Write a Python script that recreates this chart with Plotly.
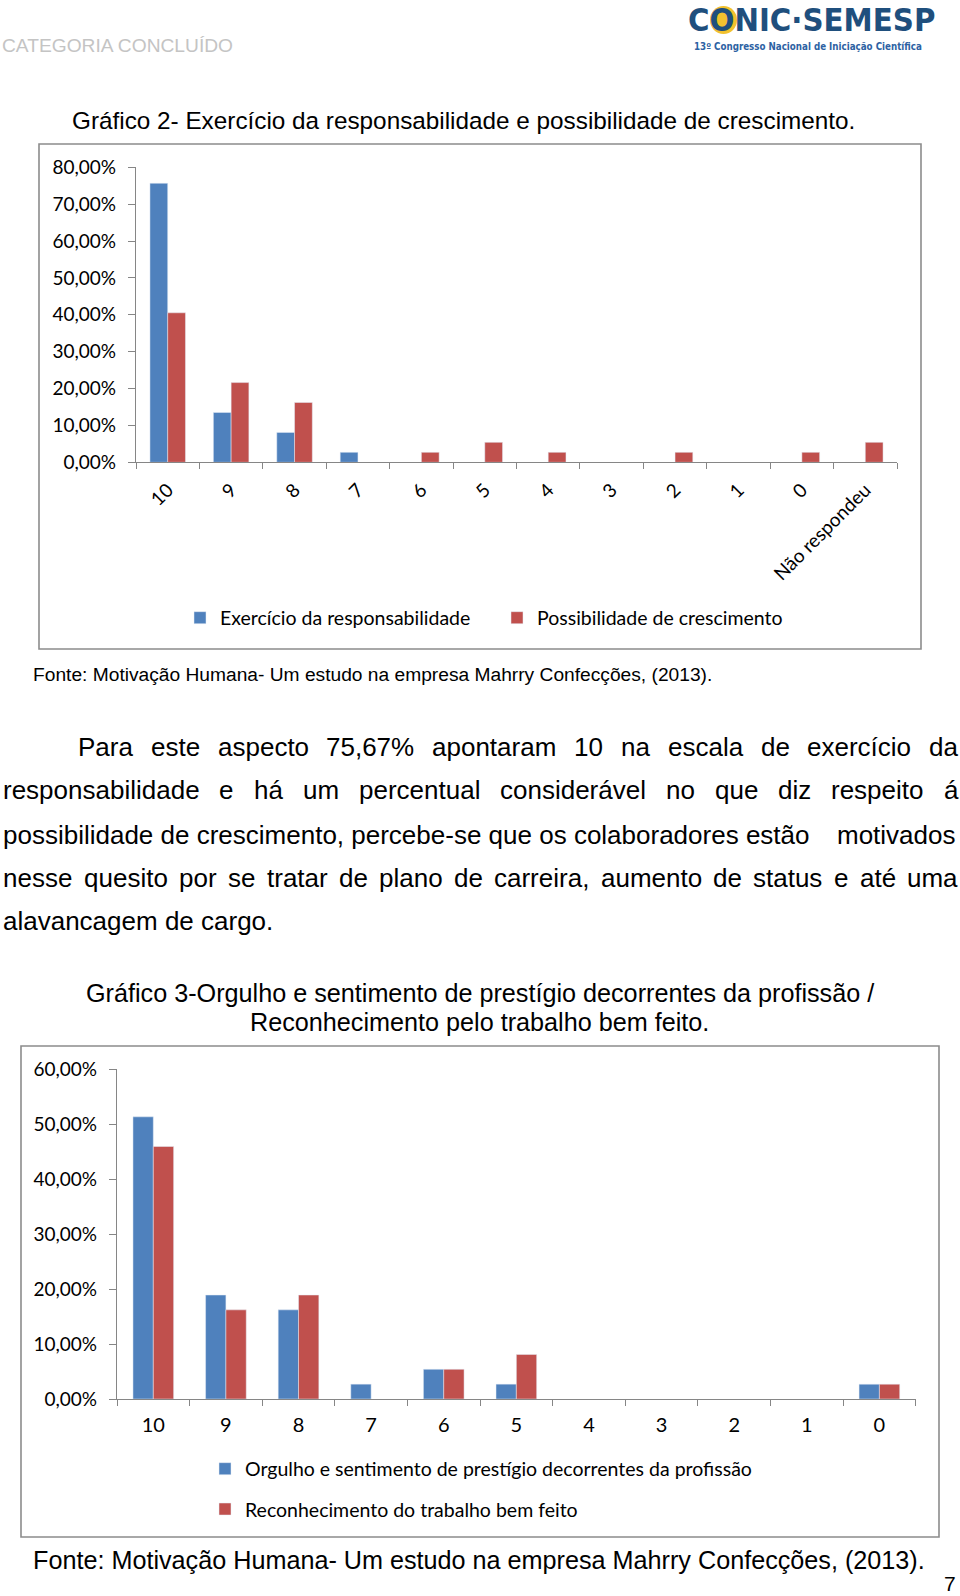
import plotly.graph_objects as go

W, H = 960, 1596


def px(x):
    return x / W


def py(y):
    return 1 - y / H


# ---------------- data ----------------
cats1 = ["10", "9", "8", "7", "6", "5", "4", "3", "2", "1", "0", "Não respondeu"]
exercicio = [0.7567, 0.1351, 0.0811, 0.0270, None, None, None, None, None, None, None, None]
possibilidade = [0.4054, 0.2162, 0.1622, None, 0.0270, 0.0541, 0.0270, None, 0.0270, None, 0.0270, 0.0541]

cats2 = ["10", "9", "8", "7", "6", "5", "4", "3", "2", "1", "0"]
orgulho = [0.5135, 0.1892, 0.1622, 0.0270, 0.0541, 0.0270, None, None, None, None, 0.0270]
reconhecimento = [0.4595, 0.1622, 0.1892, None, 0.0541, 0.0811, None, None, None, None, 0.0270]

series1_names = ["Exercício da responsabilidade", "Possibilidade de crescimento"]
series2_names = ["Orgulho e sentimento de prestígio decorrentes da profissão",
                 "Reconhecimento do trabalho bem feito"]

paragraph_lines = [
    "Para este aspecto 75,67% apontaram 10 na escala de exercício da",
    "responsabilidade e há um percentual considerável no que diz respeito á",
    "possibilidade de crescimento, percebe-se que os colaboradores estão",
    "nesse quesito por se tratar de plano de carreira, aumento de status e até uma",
    "alavancagem de cargo.",
]

BLUE = "#4F81BD"
RED = "#C0504D"
AXIS = "#868686"
FRAME = "#8c8c8c"
CAL = "Lato"
ARIALF = "Liberation Sans"

fig = go.Figure()
fig.add_trace(go.Bar(x=cats1, y=exercicio, name=series1_names[0], marker_color=BLUE,
                     xaxis="x", yaxis="y", legend="legend"))
fig.add_trace(go.Bar(x=cats1, y=possibilidade, name=series1_names[1], marker_color=RED,
                     xaxis="x", yaxis="y", legend="legend"))
fig.add_trace(go.Bar(x=cats2, y=orgulho, name=series2_names[0], marker_color=BLUE,
                     xaxis="x2", yaxis="y2", legend="legend2", legendgroup="g1"))
fig.add_trace(go.Bar(x=cats2, y=reconhecimento, name=series2_names[1], marker_color=RED,
                     xaxis="x2", yaxis="y2", legend="legend2", legendgroup="g2"))

tickfont = dict(family=CAL, size=19, color="#000000")

# ---------------- text helpers ----------------
AW = {
    'a': 556, 'b': 556, 'c': 500, 'd': 556, 'e': 556, 'f': 278, 'g': 556, 'h': 556, 'i': 222,
    'j': 222, 'k': 500, 'l': 222, 'm': 833, 'n': 556, 'o': 556, 'p': 556, 'q': 556, 'r': 333,
    's': 500, 't': 278, 'u': 556, 'v': 500, 'w': 722, 'x': 500, 'y': 500, 'z': 500,
    'á': 556, 'ã': 556, 'é': 556, 'ê': 556, 'í': 278, 'ó': 556, 'õ': 556, 'ç': 500,
    'P': 667, ',': 278, '.': 278, '%': 889, '-': 333, ' ': 278,
}
for d in "0123456789":
    AW[d] = 556


def tw(s, size):
    return sum(AW.get(ch, 556) for ch in s) * size / 1000.0


annotations = []


def txt(s, x, y, size, family=ARIALF, color="#000000", xanchor="left", weight=None):
    f = dict(family=family, size=size, color=color)
    if weight:
        f["weight"] = weight
    annotations.append(dict(text=s, x=px(x), y=py(y), xref="paper", yref="paper",
                            xanchor=xanchor, yanchor="middle", showarrow=False,
                            borderpad=0, font=f))


# header
txt("CATEGORIA CONCLUÍDO", 1, 45, 19.2, color="#c4c4c4")
txt("CONIC·SEMESP", 811, 20, 32.6, family="DejaVu Sans Condensed", color="#1f4f7d",
    xanchor="center", weight="bold")
txt("13º Congresso Nacional de Iniciação Científica", 808, 46, 9.7,
    family="DejaVu Sans Condensed", color="#2d62a3", xanchor="center", weight="bold")

# titles / sources
txt("Gráfico 2- Exercício da responsabilidade e possibilidade de crescimento.", 71, 120, 24.3)
txt("Fonte: Motivação Humana- Um estudo na empresa Mahrry Confecções, (2013).", 32, 675, 19.2)
txt("Gráfico 3-Orgulho e sentimento de prestígio decorrentes da profissão /", 480, 993, 25.2,
    xanchor="center")
txt("Reconhecimento pelo trabalho bem feito.", 479, 1022, 25.2, xanchor="center")
txt("Fonte: Motivação Humana- Um estudo na empresa Mahrry Confecções, (2013).", 32, 1560, 25.2)
txt("7", 957, 1583.5, 21, xanchor="right")

# justified paragraph
PS = 26
line_y = [747, 790, 835, 878, 921]
LEFT, RIGHT = 2, 957


def justify(line, x0, x1, y):
    words = line.split(" ")
    widths = [tw(w, PS) for w in words]
    gap = (x1 - x0 - sum(widths)) / (len(words) - 1)
    x = x0
    for w, wd in zip(words, widths):
        txt(w, x, y, PS)
        x += wd + gap


justify(paragraph_lines[0], 77, RIGHT, line_y[0])
justify(paragraph_lines[1], LEFT, RIGHT, line_y[1])
txt(paragraph_lines[2], LEFT, line_y[2], PS)
txt("motivados", RIGHT, line_y[2], PS, xanchor="right")
justify(paragraph_lines[3], LEFT, RIGHT, line_y[3])
txt(paragraph_lines[4], LEFT, line_y[4], PS)

# chart frames + logo disc
shapes = [
    dict(type="rect", xref="paper", yref="paper", x0=px(39), x1=px(921), y0=py(649), y1=py(144),
         line=dict(color=FRAME, width=1.6), fillcolor="rgba(0,0,0,0)", layer="below"),
    dict(type="rect", xref="paper", yref="paper", x0=px(21), x1=px(939), y0=py(1537), y1=py(1046),
         line=dict(color=FRAME, width=1.6), fillcolor="rgba(0,0,0,0)", layer="below"),
    dict(type="circle", xref="paper", yref="paper", x0=px(710), x1=px(737), y0=py(34), y1=py(6),
         line=dict(width=0), fillcolor="#f2c12e", layer="below"),
]

axis_common = dict(showline=True, linecolor=AXIS, linewidth=1.3, ticks="outside",
                   tickcolor=AXIS, tickwidth=1.3, showgrid=False, zeroline=False,
                   automargin=False)

fig.update_layout(
    width=W, height=H, margin=dict(l=0, r=0, t=0, b=0, autoexpand=False),
    paper_bgcolor="white", plot_bgcolor="white",
    separators=",.",
    barmode="group", bargap=0.44, bargroupgap=0,
    font=dict(family=CAL, color="#000000"),
    xaxis=dict(domain=[px(136), px(897)], anchor="y", type="category", tickson="boundaries",
               ticklen=6, tickangle=-45, ticklabelstandoff=8, tickfont=tickfont, **axis_common),
    yaxis=dict(domain=[py(462.3), py(167.3)], anchor="x", range=[0, 0.8], dtick=0.1,
               tickformat=".2%", ticklen=7, ticklabelstandoff=8, tickfont=tickfont,
               **axis_common),
    xaxis2=dict(domain=[px(117), px(915.7)], anchor="y2", type="category", tickson="boundaries",
                ticklen=6, ticklabelstandoff=8, tickfont=dict(family=CAL, size=20, color="#000000"),
                **axis_common),
    yaxis2=dict(domain=[py(1399), py(1069.3)], anchor="x2", range=[0, 0.6], dtick=0.1,
                tickformat=".2%", ticklen=7, ticklabelstandoff=8, tickfont=tickfont,
                **axis_common),
    legend=dict(orientation="h", x=px(180), y=py(618), xanchor="left", yanchor="middle",
                font=dict(family=CAL, size=19.5, color="#000000"), bgcolor="rgba(0,0,0,0)",
                entrywidth=272, itemclick=False),
    legend2=dict(orientation="v", x=px(205), y=py(1489), xanchor="left", yanchor="middle",
                 font=dict(family=CAL, size=19.5, color="#000000"), bgcolor="rgba(0,0,0,0)",
                 tracegroupgap=12, itemclick=False),
    annotations=annotations,
    shapes=shapes,
)

fig.write_html("out.html")
